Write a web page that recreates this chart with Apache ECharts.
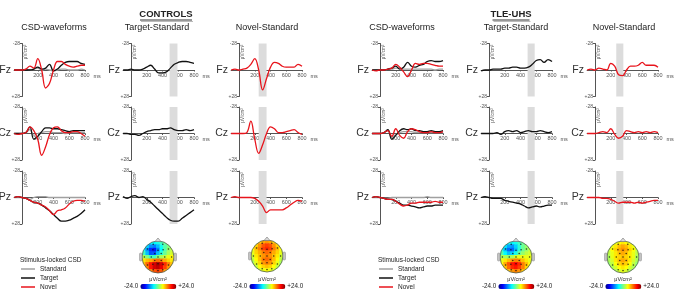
<!DOCTYPE html>
<html>
<head>
<meta charset="utf-8">
<script src="https://cdn.jsdelivr.net/npm/echarts@6/dist/echarts.min.js"></script>
<style>
  html, body { margin: 0; padding: 0; background: #fff; }
  #chart { width: 675px; height: 291px; }
</style>
</head>
<body>
<div id="chart"></div>
<script>
// time points (ms)
const times = [-100, -50, 0, 50, 100, 150, 200, 250, 300, 350, 400, 450, 500, 550, 600, 650, 700, 750, 800]
const channels = ['Fz', 'Cz', 'Pz']
const xTicks = [200, 400, 600, 800]
const yTicks = [-28, 28]
const colorbarText = ['+24.0', '-24.0']

// CONTROLS, CSD waveforms (uV/cm2, negative up)
const ctrlFzStd = [0, 0, 0, -1, 0, -1, -2, 0, -1, 0, 1, 0, -1, -1, 0, 0, 0, -1, 0]
const ctrlFzTgt = [0, 0, 0, 0, 0, -1, -3, -1, -2, -6, 1, -1, -5, -8, -9, -9, -9, -7, -6]
const ctrlFzNov = [0, 0, 0, -1, -4, -2, -12, 0, 19, 14, 0, -9, -9, -6, -4, -3, -4, -5, -5]
const ctrlFzTgtDiff = [0, 0, -1, 0, 0, -1, -3, -5, -1, 3, 3, 2, -2, -6, -8, -9, -9, -8, -7]
const ctrlFzNovDiff = [0, -1, 0, -1, -2, -6, -12, 0, 21, 9, -3, -8, -7, -4, -3, -3, -3, -6, -4]

const ctrlCzStd = [0, 0, 0, -1, -4, 2, 0, -1, -2, -2, -1, -1, -1, 0, -1, -1, -1, -1, -1]
const ctrlCzTgt = [0, 0, 0, -1, -7, 6, 3, -2, -6, -6, -5, -5, -4, -3, -2, -3, -3, -3, -3]
const ctrlCzNov = [0, 1, 0, -1, -7, -3, 6, 23, 14, 1, -6, -7, -3, -1, -1, -2, -2, 0, 3]
const ctrlCzTgtDiff = [0, 0, 1, 1, 2, 0, -2, -3, -4, -4, -5, -5, -6, -4, -3, -3, -4, -3, -4]
const ctrlCzNovDiff = [0, 0, 0, 0, -1, -13, 6, 21, 12, 0, -7, -5, -1, -1, -2, -3, -4, -1, 1]

const ctrlPzStd = [0, 0, 0, 1, 2, 0, -1, -1, -1, 0, 0, 0, 0, 0, 0, 0, 0, 0, 0]
const ctrlPzTgt = [0, -1, 0, 1, 3, 5, 6, 8, 11, 14, 18, 22, 25, 25, 24, 22, 20, 17, 13]
const ctrlPzNov = [0, -1, 0, 1, 3, 5, 6, 8, 10, 14, 18, 14, 13, 11, 7, 4, 3, 3, 4]
const ctrlPzTgtDiff = [-1, 1, -1, -2, 0, -1, 2, 5, 9, 13, 17, 21, 24, 25, 25, 22, 19, 16, 13]
const ctrlPzNovDiff = [0, -1, 0, 0, 0, 0, 1, 4, 9, 16, 13, 13, 13, 13, 11, 8, 5, 3, 4]

// TLE-UHS
const tleFzStd = [0, 0, 0, 0, -1, -1, -2, -2, -1, -1, -1, -1, -1, -1, -1, -1, 0, -1, -1]
const tleFzTgt = [0, 0, 0, 0, -1, -2, -4, -1, -3, -8, -4, -3, -5, -6, -9, -10, -9, -9, -10]
const tleFzNov = [0, 1, 0, 0, -1, -2, -6, -3, 2, 7, 0, -7, -6, -7, -7, -6, -5, -4, -4]
const tleFzTgtDiff = [1, 0, 0, -1, -1, -1, -2, -2, -3, -3, -2, -2, -3, -6, -10, -11, -8, -11, -9]
const tleFzNovDiff = [0, -1, 0, -2, -1, 0, -7, -4, 5, 6, 0, -4, -4, -5, -8, -5, -5, -5, -3]

const tleCzStd = [0, 0, 0, -1, -3, 4, 1, -1, -2, -2, -2, -1, -1, -1, -1, -1, -1, -1, -1]
const tleCzTgt = [0, 0, 0, -1, -4, 6, 2, -3, -5, -4, -5, -3, -3, -2, -2, -3, -2, -2, -3]
const tleCzNov = [0, 0, 0, -1, -3, 3, -5, 2, 5, -2, -5, -4, -2, -1, -1, -2, -1, -1, -2]
const tleCzTgtDiff = [0, 0, 0, 0, -1, 1, -2, -3, -2, -3, -1, -2, -3, -2, -2, -3, -2, -1, -2]
const tleCzNovDiff = [0, 0, 0, -1, -2, -1, -5, 1, 5, 3, -3, -2, -1, -2, -1, -2, -1, -2, -1]

const tlePzStd = [0, 0, 0, 1, 1, 0, 0, 0, 0, 0, 0, 0, 0, 0, -1, 0, 0, 0, 0]
const tlePzTgt = [0, -1, 0, 1, 2, 2, 4, 6, 8, 8, 9, 10, 11, 10, 9, 9, 8, 8, 8]
const tlePzNov = [0, -1, 0, 1, 2, 2, 4, 7, 9, 8, 6, 6, 5, 5, 5, 5, 4, 5, 5]
const tlePzTgtDiff = [0, -1, 0, 1, 1, 1, 3, 4, 5, 6, 7, 9, 11, 10, 9, 10, 9, 8, 8]
const tlePzNovDiff = [0, 0, 0, 0, 1, 1, 2, 4, 6, 5, 5, 5, 6, 5, 6, 5, 4, 3, 3]

// scalp maps, 9x9 cells, top row = frontal
const ctrlTgtMap = [
    [-2, -4, -6, -6, -5, -3, -1, 1, 2],
    [-4, -8, -11, -12, -9, -5, -2, 0, 2],
    [-5, -11, -16, -17, -12, -6, -2, 1, 3],
    [-3, -9, -14, -14, -9, -4, -1, 2, 4],
    [2, 0, -3, -3, 0, 2, 3, 5, 6],
    [7, 9, 10, 12, 13, 12, 10, 8, 7],
    [9, 13, 17, 20, 22, 20, 16, 12, 9],
    [8, 12, 17, 20, 21, 19, 15, 11, 8],
    [6, 9, 12, 14, 15, 14, 11, 9, 6]
]
const ctrlNovMap = [
    [5, 6, 8, 10, 11, 10, 8, 6, 5],
    [6, 8, 11, 14, 15, 14, 11, 8, 6],
    [6, 9, 12, 15, 16, 15, 12, 9, 6],
    [5, 8, 10, 12, 13, 12, 10, 8, 5],
    [4, 7, 9, 11, 12, 11, 9, 7, 4],
    [3, 6, 9, 12, 13, 12, 9, 6, 3],
    [2, 5, 8, 11, 12, 11, 8, 5, 2],
    [1, 3, 6, 8, 9, 8, 6, 3, 1],
    [0, 2, 4, 5, 6, 5, 4, 2, 0]
]
const tleTgtMap = [
    [-1, -3, -5, -6, -5, -3, -1, 1, 2],
    [-3, -7, -10, -11, -8, -4, -1, 1, 2],
    [-4, -9, -13, -13, -9, -4, -1, 1, 3],
    [-2, -6, -9, -8, -5, -1, 1, 3, 4],
    [2, 2, 1, 2, 4, 5, 5, 5, 5],
    [5, 7, 9, 11, 12, 11, 9, 7, 5],
    [6, 10, 14, 17, 18, 16, 12, 9, 6],
    [6, 9, 13, 16, 17, 15, 12, 8, 6],
    [4, 7, 9, 11, 12, 11, 9, 7, 4]
]
const tleNovMap = [
    [2, 3, 5, 6, 7, 6, 5, 3, 2],
    [3, 5, 7, 9, 10, 9, 7, 5, 3],
    [3, 6, 8, 10, 11, 10, 8, 6, 3],
    [3, 5, 7, 9, 10, 9, 7, 5, 3],
    [2, 5, 7, 8, 9, 8, 7, 5, 2],
    [2, 4, 7, 9, 10, 9, 7, 4, 2],
    [1, 3, 6, 8, 9, 8, 6, 3, 1],
    [0, 2, 4, 6, 7, 6, 4, 2, 0],
    [-1, 1, 2, 4, 5, 4, 2, 1, -1]
]
// electrode positions, head radius = 1
const electrodes = [
    [-0.3, -0.8], [0.3, -0.8],
    [-0.65, -0.5], [-0.32, -0.45], [0, -0.42], [0.32, -0.45], [0.65, -0.5],
    [-0.2, -0.22], [0.2, -0.22],
    [-0.85, 0], [-0.42, 0], [0, 0], [0.42, 0], [0.85, 0],
    [-0.2, 0.22], [0.2, 0.22],
    [-0.65, 0.5], [-0.32, 0.45], [0, 0.42], [0.32, 0.45], [0.65, 0.5],
    [-0.3, 0.8], [0, 0.85], [0.3, 0.8]
]

const FONT = 'Liberation Sans, Arial, Helvetica, sans-serif'
const jet = ['#00007f', '#0000ff', '#007fff', '#00ffff', '#7fff7f', '#ffff00', '#ff7f00', '#ff0000', '#7f0000']
const RED = '#e8141c', BLACK = '#111', GRAY = '#a0a0a0'

const msPx = 63 / 800
const rowTop = [43.5, 107, 171]
const rowH = 53

const groups = [
    {
        title: 'CONTROLS', titleX: 166, titleW: 52,
        axisX: [22, 131, 239], colTitleX: [54, 157, 267],
        bands: [null, [490, 590], [250, 350]],
        legendX: 21,
        waves: {
            Fz: [ctrlFzStd, ctrlFzTgt, ctrlFzNov, ctrlFzTgtDiff, ctrlFzNovDiff],
            Cz: [ctrlCzStd, ctrlCzTgt, ctrlCzNov, ctrlCzTgtDiff, ctrlCzNovDiff],
            Pz: [ctrlPzStd, ctrlPzTgt, ctrlPzNov, ctrlPzTgtDiff, ctrlPzNovDiff]
        },
        maps: [ctrlTgtMap, ctrlNovMap],
        heads: [[158, 257], [267, 256]]
    },
    {
        title: 'TLE-UHS', titleX: 511, titleW: 37,
        axisX: [380, 489, 595], colTitleX: [402, 516, 624],
        bands: [null, [490, 580], [270, 360]],
        legendX: 379,
        waves: {
            Fz: [tleFzStd, tleFzTgt, tleFzNov, tleFzTgtDiff, tleFzNovDiff],
            Cz: [tleCzStd, tleCzTgt, tleCzNov, tleCzTgtDiff, tleCzNovDiff],
            Pz: [tlePzStd, tlePzTgt, tlePzNov, tlePzTgtDiff, tlePzNovDiff]
        },
        maps: [tleTgtMap, tleNovMap],
        heads: [[516, 257], [623, 257]]
    }
]
const colTitles = ['CSD-waveforms', 'Target-Standard', 'Novel-Standard']

const grids = [], xAxes = [], yAxes = [], series = [], graphics = [], visualMaps = [], legends = []

const text = (x, y, str, style, extra) => graphics.push(Object.assign({
    type: 'text', x, y, z: 30, silent: true,
    style: Object.assign({ text: str, fontFamily: FONT, fill: '#222', align: 'center', verticalAlign: 'middle' }, style)
}, extra || {}))

const toPts = arr => times.map((t, i) => [t, arr[i]])

function addWave(gi, name, color, arr, band) {
    const s = {
        type: 'line', name, xAxisIndex: gi, yAxisIndex: gi, data: toPts(arr),
        color, smooth: 0.4, symbol: 'none', silent: true,
        lineStyle: { color, width: 1.3 }, z: 5
    }
    if (band) {
        s.markArea = {
            silent: true, itemStyle: { color: '#dcdcdc' },
            data: [[{ xAxis: band[0] }, { xAxis: band[1] }]]
        }
    }
    series.push(s)
}

groups.forEach(g => {
    text(g.titleX, 14, g.title, { fontSize: 9.5, fontWeight: 'bold', fill: '#222' })
    graphics.push({ type: 'line', silent: true, z: 30, shape: { x1: g.titleX - g.titleW / 2, y1: 20, x2: g.titleX + g.titleW / 2, y2: 20 }, style: { stroke: '#333', lineWidth: 1 } })
    graphics.push({ type: 'line', silent: true, z: 30, shape: { x1: g.titleX - g.titleW / 2 + 1, y1: 21.5, x2: g.titleX + g.titleW / 2 + 1, y2: 21.5 }, style: { stroke: '#bbb', lineWidth: 1 } })

    g.axisX.forEach((ax, c) => {
        text(g.colTitleX[c], 27.5, colTitles[c], { fontSize: 9, fill: '#222' })
        channels.forEach((ch, r) => {
            const gi = grids.length
            const top = rowTop[r]
            grids.push({ left: ax - 100 * msPx, top, width: 900 * msPx, height: rowH, outerBoundsMode: 'none' })
            // axes cross at (0 ms, 0 uV/cm2): moved in from the grid edges with offset
            xAxes.push({
                gridIndex: gi, type: 'value', min: -100, max: 800, interval: 100,
                position: 'bottom', offset: -rowH / 2,
                axisLine: { onZero: false, lineStyle: { color: '#555', width: 1 } },
                axisTick: { show: true, customValues: xTicks, length: 1.5, lineStyle: { color: '#555' } },
                axisLabel: { customValues: xTicks, fontSize: 5.5, color: '#555', margin: 2, fontFamily: FONT },
                splitLine: { show: false },
                name: 'ms', nameLocation: 'end', nameGap: 3,
                nameTextStyle: { fontSize: 5.5, color: '#555', fontFamily: FONT, verticalAlign: 'top', padding: [3, 0, 0, 0] }
            })
            yAxes.push({
                gridIndex: gi, type: 'value', min: -28, max: 28, interval: 28, inverse: true,
                position: 'left', offset: -100 * msPx,
                axisLine: { show: true, onZero: false, lineStyle: { color: '#555', width: 1 } },
                axisTick: { show: true, customValues: yTicks, length: 2, lineStyle: { color: '#555' } },
                axisLabel: {
                    customValues: yTicks, fontSize: 5, color: '#555', margin: 2, fontFamily: FONT,
                    formatter: v => (v > 0 ? '+' + v : String(v))
                },
                splitLine: { show: false }
            })
            const w = g.waves[ch]
            if (c === 0) {
                addWave(gi, 'Standard', GRAY, w[0])
                addWave(gi, 'Target', BLACK, w[1])
                addWave(gi, 'Novel', RED, w[2])
            } else if (c === 1) {
                addWave(gi, 'Target', BLACK, w[3], g.bands[1])
            } else {
                addWave(gi, 'Novel', RED, w[4], g.bands[2])
            }
            text(ax - 11, top + rowH / 2, ch, { fontSize: 10.5, fill: '#333', align: 'right' })
            text(ax + 3.5, top + 8.5, 'μV/cm²', { fontSize: 4.5, fill: '#555' }, { rotation: Math.PI / 2 })
        })
    })

    // legend
    text(g.legendX - 1, 260, 'Stimulus-locked CSD', { fontSize: 6.5, align: 'left' })
    legends.push({
        orient: 'vertical', left: g.legendX, top: 265, padding: 0,
        icon: 'rect', itemWidth: 14, itemHeight: 1.5, itemGap: 1, selectedMode: false,
        textStyle: { fontSize: 6.5, color: '#222', lineHeight: 8, fontFamily: FONT },
        data: ['Standard', 'Target', 'Novel']
    })

    // scalp maps
    g.maps.forEach((m, k) => {
        const [cx, cy] = g.heads[k]
        const R = 16
        const gi = grids.length
        grids.push({ left: cx - R, top: cy - R, width: 2 * R, height: 2 * R, outerBoundsMode: 'none' })
        const idx = m[0].map((_, i) => i)
        xAxes.push({ gridIndex: gi, type: 'category', data: idx, show: false })
        yAxes.push({ gridIndex: gi, type: 'category', data: idx, inverse: true, show: false })
        const si = series.length
        series.push({
            type: 'heatmap', xAxisIndex: gi, yAxisIndex: gi, silent: true, z: 2,
            data: m.flatMap((row, j) => row.map((v, i) => [i, j, v])),
            emphasis: { disabled: true }
        })
        visualMaps.push({
            type: 'continuous', seriesIndex: si, min: -24, max: 24, orient: 'horizontal',
            left: cx - 34, top: 283.5, padding: 0, itemWidth: 5, itemHeight: 36,
            text: colorbarText, textGap: 2, calculable: false, hoverLink: false,
            textStyle: { fontSize: 6.3, color: '#222', fontFamily: FONT },
            inRange: { color: jet }
        })
        const ei = grids.length
        grids.push({ left: cx - R, top: cy - R, width: 2 * R, height: 2 * R, outerBoundsMode: 'none' })
        xAxes.push({ gridIndex: ei, type: 'value', min: -1, max: 1, show: false })
        yAxes.push({ gridIndex: ei, type: 'value', min: -1, max: 1, inverse: true, show: false })
        series.push({
            type: 'scatter', xAxisIndex: ei, yAxisIndex: ei, silent: true, z: 20,
            data: electrodes, symbolSize: 1.6, itemStyle: { color: '#111' }
        })
        // white mask round the head, outline, nose, ears
        graphics.push({ type: 'circle', silent: true, z: 10, shape: { cx, cy, r: R + 4 }, style: { fill: null, stroke: '#fff', lineWidth: 8 } })
        graphics.push({ type: 'circle', silent: true, z: 11, shape: { cx, cy, r: R }, style: { fill: null, stroke: '#4b5a4b', lineWidth: 0.8 } })
        graphics.push({ type: 'polygon', silent: true, z: 11, shape: { points: [[cx - 3, cy - R + 0.5], [cx, cy - R - 3], [cx + 3, cy - R + 0.5]] }, style: { fill: '#d8d8d8', stroke: '#777', lineWidth: 0.6 } })
        graphics.push({ type: 'rect', silent: true, z: 11, shape: { x: cx - R - 2.5, y: cy - 4, width: 2.5, height: 8, r: 1 }, style: { fill: '#c4c4c4', stroke: '#888', lineWidth: 0.5 } })
        graphics.push({ type: 'rect', silent: true, z: 11, shape: { x: cx + R, y: cy - 4, width: 2.5, height: 8, r: 1 }, style: { fill: '#c4c4c4', stroke: '#888', lineWidth: 0.5 } })
        text(cx, 279, 'μV/cm²', { fontSize: 5.5, fill: '#222' })
    })
})

const chart = echarts.init(document.getElementById('chart'))
chart.setOption({
    animation: false,
    backgroundColor: '#fff',
    textStyle: { fontFamily: FONT },
    grid: grids,
    xAxis: xAxes,
    yAxis: yAxes,
    legend: legends,
    visualMap: visualMaps,
    series,
    graphic: { elements: graphics }
})
</script>
</body>
</html>
